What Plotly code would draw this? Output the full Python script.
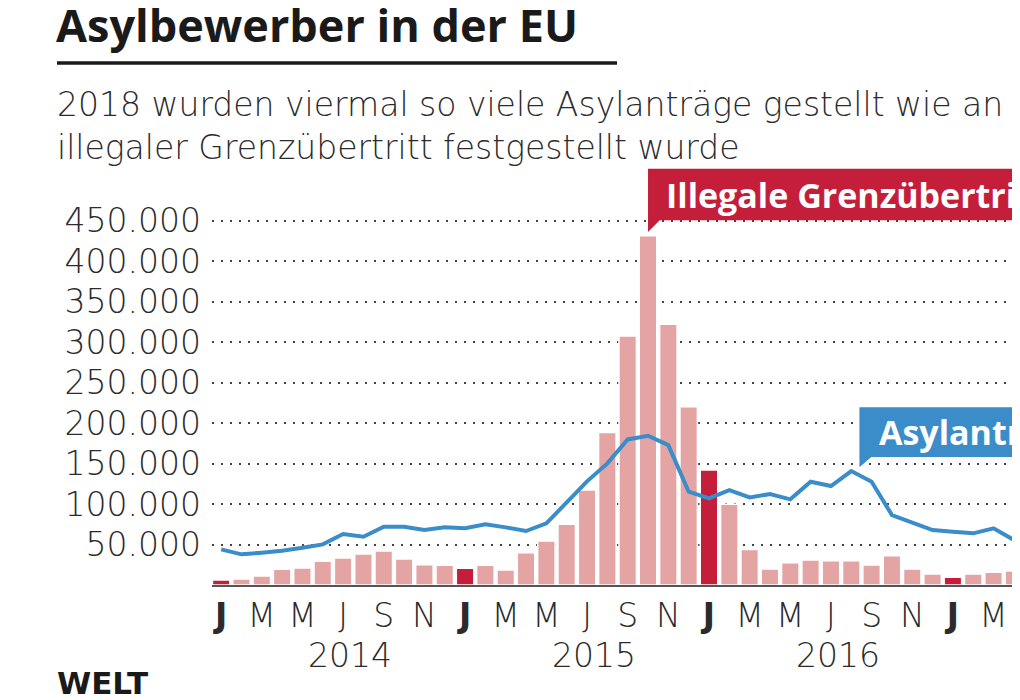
import plotly.graph_objects as go

# Monthly values, Jan 2014 .. May 2017
months = ["2014-01", "2014-02", "2014-03", "2014-04", "2014-05", "2014-06",
          "2014-07", "2014-08", "2014-09", "2014-10", "2014-11", "2014-12",
          "2015-01", "2015-02", "2015-03", "2015-04", "2015-05", "2015-06",
          "2015-07", "2015-08", "2015-09", "2015-10", "2015-11", "2015-12",
          "2016-01", "2016-02", "2016-03", "2016-04", "2016-05", "2016-06",
          "2016-07", "2016-08", "2016-09", "2016-10", "2016-11", "2016-12",
          "2017-01", "2017-02", "2017-03", "2017-04", "2017-05"]

grenzuebertritte = [6200, 7400, 11100, 19300, 21000, 29200,
                    33300, 38300, 42000, 32100, 25100, 24300,
                    20600, 24300, 18500, 39900, 54300, 74900,
                    117300, 188500, 307400, 431300, 322200, 220200,
                    142000, 99600, 44000, 19800, 27600, 30900,
                    30000, 30000, 24700, 36200, 19800, 13600,
                    9500, 13600, 15600, 17300, 19000]

asylantraege = [44000, 37900, 39900, 42300, 46000, 50200,
                63000, 59600, 72000, 72000, 67900, 71200,
                70000, 74900, 71200, 66700, 76100, 102900,
                128000, 150200, 179800, 184300, 172800, 115200,
                107000, 117300, 108200, 112300, 105800, 127600,
                122200, 140700, 127600, 86400, 76900, 67900,
                65800, 63800, 70000, 55600, 62000]

month_letters = ["J", "F", "M", "A", "M", "J", "J", "A", "S", "O", "N", "D"]
years = ["2014", "2015", "2016"]
y_ticks = [50000, 100000, 150000, 200000, 250000, 300000, 350000, 400000, 450000]

RED = "#c41e3a"
PINK = "#e4a4a4"
BLUE = "#3b8dc9"
TEXT = "#2b2b2b"
FONT = "Open Sans"
LIGHT = "DejaVu Sans"

# the page adds an 8px body margin, so the figure is a bit smaller
OFF = 8
W, H = 1020 - OFF, 700 - OFF
M_L, M_R, M_T, M_B = 212 - OFF, 0, 164 - OFF, 115


def py(pix):
    # screen pixel row -> paper y
    return (H - M_B - (pix - OFF)) / (H - M_T - M_B)


def px(pix):
    return (pix - OFF - M_L) / (W - M_L - M_R)


x = list(range(len(months)))
bar_colors = [RED if m.endswith("-01") else PINK for m in months]

fig = go.Figure()

fig.add_trace(go.Bar(
    x=x, y=grenzuebertritte,
    marker=dict(color=bar_colors, line=dict(color="white", width=1.5)),
    width=0.86,
    hoverinfo="skip",
))

fig.add_trace(go.Scatter(
    x=x, y=asylantraege,
    mode="lines",
    line=dict(color=BLUE, width=4),
    hoverinfo="skip",
))

# month ticks every second month, January bold
tickvals = [i for i in x if i % 2 == 0]
ticktext = []
for i in tickvals:
    letter = month_letters[int(months[i][5:]) - 1]
    ticktext.append(f"<b>{letter}</b>" if months[i].endswith("-01") else letter)

light_font = dict(family=LIGHT, size=33, color=TEXT, weight=200)

fig.update_xaxes(
    range=[-0.45, 39.3],
    tickvals=tickvals, ticktext=ticktext,
    showgrid=False, zeroline=False,
    showline=True, linecolor="#555555", linewidth=2,
    ticks="", ticklabelstandoff=0,
    tickfont=light_font,
)

fig.update_yaxes(
    range=[0, 520000],
    tickvals=y_ticks,
    ticktext=[f"{v:,}".replace(",", ".") for v in y_ticks],
    showgrid=True, gridcolor="#444444", gridwidth=2, griddash="2px,7px",
    zeroline=False, showline=False,
    ticks="", ticklabelstandoff=10,
    tickfont=light_font,
)

annotations = []
shapes = []

# year labels
for yr in years:
    jan = months.index(yr + "-01")
    annotations.append(dict(
        x=jan + 6.35, y=py(655), xref="x", yref="paper",
        text=yr, showarrow=False, xanchor="center", yanchor="middle",
        font=light_font,
    ))

# title, rule, subtitle, logo
annotations.append(dict(
    x=px(54), y=py(24), xref="paper", yref="paper",
    text="<b>Asylbewerber in der EU</b>", showarrow=False,
    xanchor="left", yanchor="middle",
    font=dict(family=FONT, size=45, color="#1a1a1a"),
))
shapes.append(dict(
    type="line", xref="paper", yref="paper",
    x0=px(57), x1=px(617), y0=py(63), y1=py(63),
    line=dict(color="#1a1a1a", width=3.5),
))
annotations.append(dict(
    x=px(55), y=py(126), xref="paper", yref="paper",
    text="2018 wurden viermal so viele Asylanträge gestellt wie an<br>"
         "illegaler Grenzübertritt festgestellt wurde",
    showarrow=False, xanchor="left", yanchor="middle", align="left",
    font=light_font,
))
annotations.append(dict(
    x=px(55), y=py(683), xref="paper", yref="paper",
    text="<b>WELT</b>", showarrow=False, xanchor="left", yanchor="middle",
    font=dict(family="DejaVu Sans", size=31, color="#1a1a1a"),
))

# callout: illegal border crossings, pointing at the peak bar
peak = grenzuebertritte.index(max(grenzuebertritte))
shapes.append(dict(
    type="rect", xref="x", yref="y", layer="above",
    x0=peak, x1=peak + 25, y0=450600, y1=514000,
    fillcolor=RED, line=dict(width=0),
))
shapes.append(dict(
    type="path", xref="x", yref="y", layer="above",
    path=f"M {peak},{451000} L {peak},{436000} L {peak + 0.6},{451000} Z",
    fillcolor=RED, line=dict(width=0),
))
annotations.append(dict(
    x=peak + 0.8, y=482000, xref="x", yref="y",
    text="<b>Illegale Grenzübertritte</b>", showarrow=False,
    xanchor="left", yanchor="middle",
    font=dict(family=FONT, size=34, color="white"),
))

# callout: asylum applications, pointing at the Aug 2016 peak
ap = months.index("2016-08")
shapes.append(dict(
    type="rect", xref="x", yref="y", layer="above",
    x0=ap + 0.4, x1=ap + 20, y0=158000, y1=219500,
    fillcolor=BLUE, line=dict(width=0),
))
shapes.append(dict(
    type="path", xref="x", yref="y", layer="above",
    path=f"M {ap + 0.4},{158500} L {ap + 0.4},{145500} L {ap + 1.0},{158500} Z",
    fillcolor=BLUE, line=dict(width=0),
))
annotations.append(dict(
    x=ap + 1.25, y=189000, xref="x", yref="y",
    text="<b>Asylanträge</b>", showarrow=False,
    xanchor="left", yanchor="middle",
    font=dict(family=FONT, size=34, color="white"),
))

fig.update_layout(
    width=W, height=H,
    margin=dict(l=M_L, r=M_R, t=M_T, b=M_B),
    plot_bgcolor="white", paper_bgcolor="white",
    showlegend=False, bargap=0.1,
    annotations=annotations, shapes=shapes,
)

fig.write_html("out.html")
